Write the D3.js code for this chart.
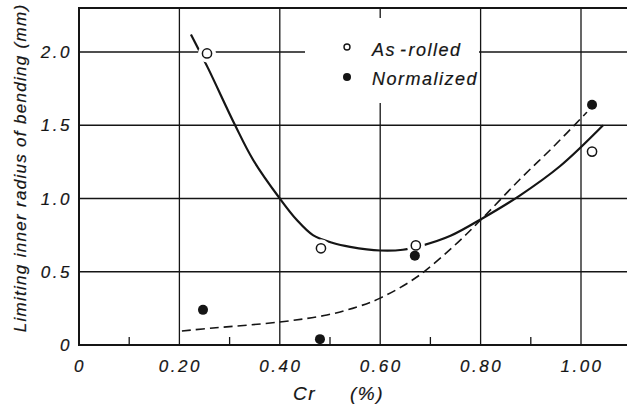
<!DOCTYPE html>
<html>
<head>
<meta charset="utf-8">
<script src="https://cdn.jsdelivr.net/npm/d3@7"></script>
<style>
	html, body { margin: 0; padding: 0; background: #fff; }
	svg { display: block; }
	text { font-family: 'Liberation Sans', Arial, sans-serif; font-style: italic; fill: #151515; stroke: #151515; stroke-width: 0.2; }
</style>
</head>
<body>
<svg id="chart"></svg>
<script>
const WIDTH = 627;
const HEIGHT = 405;
const INK = '#151515';

// points
const asRolledCr = [0.255, 0.482, 0.671, 1.022];
const asRolledRadius = [1.99, 0.66, 0.68, 1.32];
const normalizedCr = [0.247, 0.48, 0.669, 1.022];
const normalizedRadius = [0.24, 0.04, 0.61, 1.64];

// hand-drawn fit curves
const rolledFitCr = [0.223, 0.257, 0.311, 0.347, 0.4, 0.434, 0.466, 0.506, 0.54, 0.6, 0.645, 0.685, 0.74, 0.805, 0.878, 0.958, 1.044];
const rolledFitRadius = [2.12, 1.89, 1.5, 1.263, 1.0, 0.853, 0.75, 0.696, 0.67, 0.645, 0.65, 0.68, 0.745, 0.867, 1.02, 1.22, 1.5];
const normFitCr = [0.205, 0.267, 0.4, 0.494, 0.554, 0.6, 0.673, 0.745, 0.805, 0.878, 0.944, 1.012];
const normFitRadius = [0.096, 0.116, 0.157, 0.205, 0.26, 0.32, 0.464, 0.67, 0.87, 1.13, 1.35, 1.59];

const xTicks = [0, 0.2, 0.4, 0.6, 0.8, 1.0];
const xTickLabels = ['0', '0.20', '0.40', '0.60', '0.80', '1.00'];
const xMinorTicks = [0.1, 0.3, 0.5, 0.7, 0.9];
const yTicks = [0, 0.5, 1.0, 1.5, 2.0];
const yTickLabels = ['0', '0.5', '1.0', '1.5', '2.0'];

const LEFT = 79;
const TOP = 8;
const BOTTOM = 345;

const x = d3.scaleLinear().domain([0, 1]).range([LEFT, 581]);
const y = d3.scaleLinear().domain([0, 2]).range([BOTTOM, 52]);

const svg = d3.select('#chart').attr('width', WIDTH).attr('height', HEIGHT);

// grid
svg.append('g')
	.selectAll('line')
	.data(xTicks.slice(1))
	.join('line')
	.attr('x1', d => x(d)).attr('x2', d => x(d))
	.attr('y1', TOP).attr('y2', BOTTOM)
	.attr('stroke', INK).attr('stroke-width', 1.3);

svg.append('g')
	.selectAll('line')
	.data(yTicks.slice(1))
	.join('line')
	.attr('x1', LEFT).attr('x2', WIDTH)
	.attr('y1', d => y(d)).attr('y2', d => y(d))
	.attr('stroke', INK).attr('stroke-width', 1.3);

// legend background knocks out the grid
svg.append('rect')
	.attr('x', 305).attr('y', 18).attr('width', 174).attr('height', 85)
	.attr('fill', '#fff');

const line = d3.line()
	.x(d => x(d[0]))
	.y(d => y(d[1]))
	.curve(d3.curveCatmullRom.alpha(0.5));

svg.append('path')
	.datum(d3.zip(rolledFitCr, rolledFitRadius))
	.attr('d', line)
	.attr('fill', 'none').attr('stroke', INK).attr('stroke-width', 2.2);

svg.append('path')
	.datum(d3.zip(normFitCr, normFitRadius))
	.attr('d', line)
	.attr('fill', 'none').attr('stroke', INK).attr('stroke-width', 1.6)
	.attr('stroke-dasharray', '9 5');

// white halos round the points
const allPoints = d3.zip(asRolledCr, asRolledRadius).concat(d3.zip(normalizedCr, normalizedRadius));
svg.append('g')
	.selectAll('circle')
	.data(allPoints)
	.join('circle')
	.attr('cx', d => x(d[0])).attr('cy', d => y(d[1]))
	.attr('r', 9)
	.attr('fill', '#fff');

// frame
svg.append('path')
	.attr('d', `M${WIDTH},${TOP}H${LEFT}V${BOTTOM}H${WIDTH}`)
	.attr('fill', 'none').attr('stroke', INK).attr('stroke-width', 2);

svg.append('g')
	.selectAll('line')
	.data(xMinorTicks)
	.join('line')
	.attr('x1', d => x(d)).attr('x2', d => x(d))
	.attr('y1', BOTTOM).attr('y2', BOTTOM - 8)
	.attr('stroke', INK).attr('stroke-width', 1.3);

// points
svg.append('g')
	.selectAll('circle')
	.data(d3.zip(normalizedCr, normalizedRadius))
	.join('circle')
	.attr('cx', d => x(d[0])).attr('cy', d => y(d[1]))
	.attr('r', 5)
	.attr('fill', INK);

svg.append('g')
	.selectAll('circle')
	.data(d3.zip(asRolledCr, asRolledRadius))
	.join('circle')
	.attr('cx', d => x(d[0])).attr('cy', d => y(d[1]))
	.attr('r', 4.6)
	.attr('fill', '#fff').attr('stroke', INK).attr('stroke-width', 1.5);

// tick labels
svg.append('g')
	.selectAll('text')
	.data(xTicks)
	.join('text')
	.attr('x', d => x(d) + 1).attr('y', 372)
	.attr('text-anchor', 'middle')
	.attr('font-size', 17).attr('letter-spacing', 2.5)
	.text((d, i) => xTickLabels[i]);

svg.append('g')
	.selectAll('text')
	.data(yTicks)
	.join('text')
	.attr('x', 72).attr('y', d => y(d) + 6)
	.attr('text-anchor', 'end')
	.attr('font-size', 17).attr('letter-spacing', 2.5)
	.text((d, i) => yTickLabels[i]);

// axis titles
svg.append('text')
	.attr('x', 293).attr('y', 400)
	.attr('font-size', 19).attr('letter-spacing', 1.5)
	.text('Cr');
svg.append('text')
	.attr('x', 350).attr('y', 400)
	.attr('font-size', 19).attr('letter-spacing', 1.5)
	.text('(%)');

svg.append('text')
	.attr('transform', 'translate(26,168) rotate(-90)')
	.attr('text-anchor', 'middle')
	.attr('font-size', 17).attr('letter-spacing', 1.3)
	.text('Limiting inner radius of bending (mm)');

// legend
svg.append('circle')
	.attr('cx', 347).attr('cy', 47).attr('r', 3)
	.attr('fill', '#fff').attr('stroke', INK).attr('stroke-width', 1.4);
svg.append('circle')
	.attr('cx', 347).attr('cy', 77).attr('r', 4)
	.attr('fill', INK);

const rolledLabel = svg.append('text')
	.attr('x', 372).attr('y', 56)
	.attr('font-size', 18).attr('letter-spacing', 1.5);
rolledLabel.append('tspan').text('As');
rolledLabel.append('tspan').attr('dx', 4).text('-');
rolledLabel.append('tspan').attr('dx', 1).text('rolled');

svg.append('text')
	.attr('x', 372).attr('y', 85)
	.attr('font-size', 18).attr('letter-spacing', 1.5)
	.text('Normalized');
</script>
</body>
</html>
